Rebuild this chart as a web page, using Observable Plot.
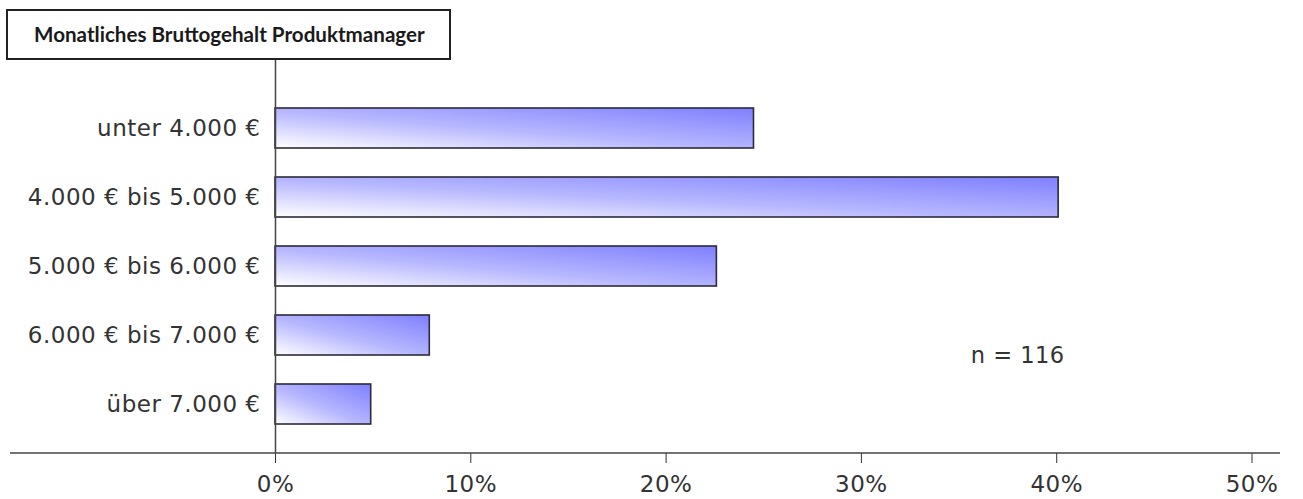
<!DOCTYPE html>
<html>
<head>
<meta charset="utf-8">
<script src="https://cdn.jsdelivr.net/npm/d3@7"></script>
<script src="https://cdn.jsdelivr.net/npm/@observablehq/plot@0.6"></script>
<style>
  html, body { margin: 0; padding: 0; background: #fff; }
  #wrap { position: relative; width: 1303px; height: 499px; overflow: hidden; }
  #title {
    position: absolute; left: 6px; top: 9px; height: 47px;
    border: 2px solid #222; background: #fff; box-sizing: content-box;
    font-family: Lato, "DejaVu Sans", sans-serif; font-weight: bold; font-size: 20.6px;
    color: #1a1a1a; line-height: 47px; white-space: nowrap; padding-left: 26px;
    width: 415px; z-index: 2; overflow: visible;
  }
  #chart { position: absolute; left: 0; top: 0; }
</style>
</head>
<body>
<div id="wrap">
  <div id="title"></div>
  <div id="chart"></div>
</div>
<script>
const titleText = "Monatliches Bruttogehalt Produktmanager";
const categories = ["unter 4.000 €", "4.000 € bis 5.000 €", "5.000 € bis 6.000 €", "6.000 € bis 7.000 €", "über 7.000 €"];
const shares = [24.5, 40.1, 22.6, 7.9, 4.9];
const xTicks = [0, 10, 20, 30, 40, 50];
const noteText = "n = 116";
const noteShare = 35.6;
const noteCategory = "6.000 € bis 7.000 €";

const data = categories.map((c, i) => ({cat: c, share: shares[i]}));
const notes = [{text: noteText, share: noteShare, cat: noteCategory}];

document.getElementById("title").textContent = titleText;

const plot = Plot.plot({
  width: 1303,
  height: 499,
  marginLeft: 275,
  marginRight: 51.5,
  marginTop: 79,
  marginBottom: 46,
  style: {fontFamily: "'DejaVu Sans', sans-serif", fontSize: "23px", letterSpacing: "0.5px", color: "#333", background: "transparent"},
  x: {domain: [0, 50], ticks: xTicks, tickFormat: d => d + "%", tickSize: 10, tickPadding: 12, label: null},
  y: {domain: categories, padding: 0.42, tickSize: 0, tickPadding: 15, label: null},
  marks: [
    Plot.barX(data, {x: "share", y: "cat", fill: "url(#barGrad)", stroke: "#2b2b3a", strokeWidth: 1.6}),
    Plot.ruleX([0], {stroke: "#444", strokeWidth: 1.5, insetTop: -20}),
    Plot.text(notes, {x: "share", y: "cat", text: "text", dy: 20, textAnchor: "start", fontSize: 22.5, fill: "#333"})
  ]
});

const svg = d3.select(plot);
const defs = svg.insert("defs", ":first-child");
const g = defs.append("linearGradient").attr("id", "barGrad")
  .attr("x1", 0).attr("y1", 1).attr("x2", 1).attr("y2", 0);
g.append("stop").attr("offset", "0").attr("stop-color", "#ffffff");
g.append("stop").attr("offset", "0.45").attr("stop-color", "#b8b8ff");
g.append("stop").attr("offset", "1").attr("stop-color", "#7f7fff");

// x axis baseline
svg.append("line")
  .attr("x1", 10).attr("x2", 1280)
  .attr("y1", 499 - 46).attr("y2", 499 - 46)
  .attr("stroke", "#444").attr("stroke-width", 1.6);

document.getElementById("chart").appendChild(plot);
</script>
</body>
</html>
